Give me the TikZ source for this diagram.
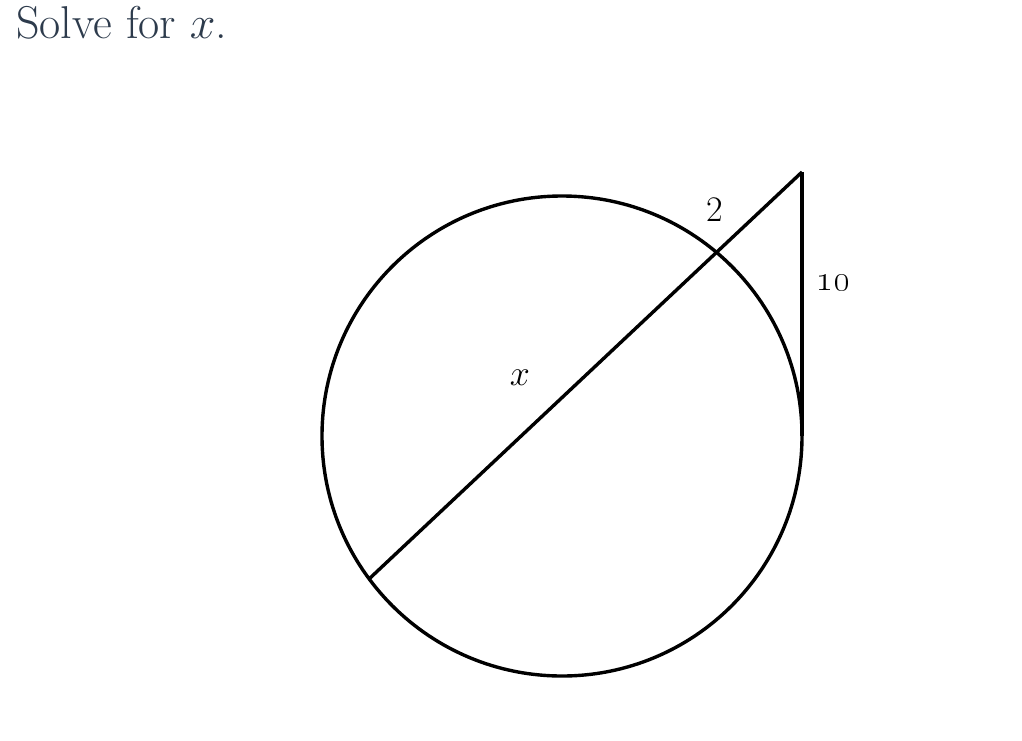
\documentclass[tikz,border=0pt]{standalone}
\usepackage{fix-cm}
\definecolor{titlecol}{HTML}{2D3B4C}
\tikzset{
  geo/.style={line width=3.4pt, black},
  lbl/.style={inner sep=0pt, font=\fontsize{36}{40}\selectfont},
}
\begin{document}
\begin{tikzpicture}[x=1pt,y=-1pt]
\useasboundingbox[fill=white] (0,0) rectangle (1022,740);
\node[anchor=base west, inner sep=0pt, text=titlecol, font=\fontsize{46}{52}\selectfont] (title) at (16,38) {Solve for $x$.};
\coordinate (C) at (562,436);
\coordinate (P) at (802,172);
\coordinate (T) at (802,436);
\coordinate (A) at (369,579);
\draw[geo] (C) circle[radius=240];
\draw[geo] (P) -- (T);
\draw[geo] (P) -- (A);
\node[lbl] (two) at (715,210) {2};
\node[lbl] (ten) at (833,283) {\oldstylenums{10}};
\node[lbl] (xl) at (520,378) {$x$};
\end{tikzpicture}
\end{document}
